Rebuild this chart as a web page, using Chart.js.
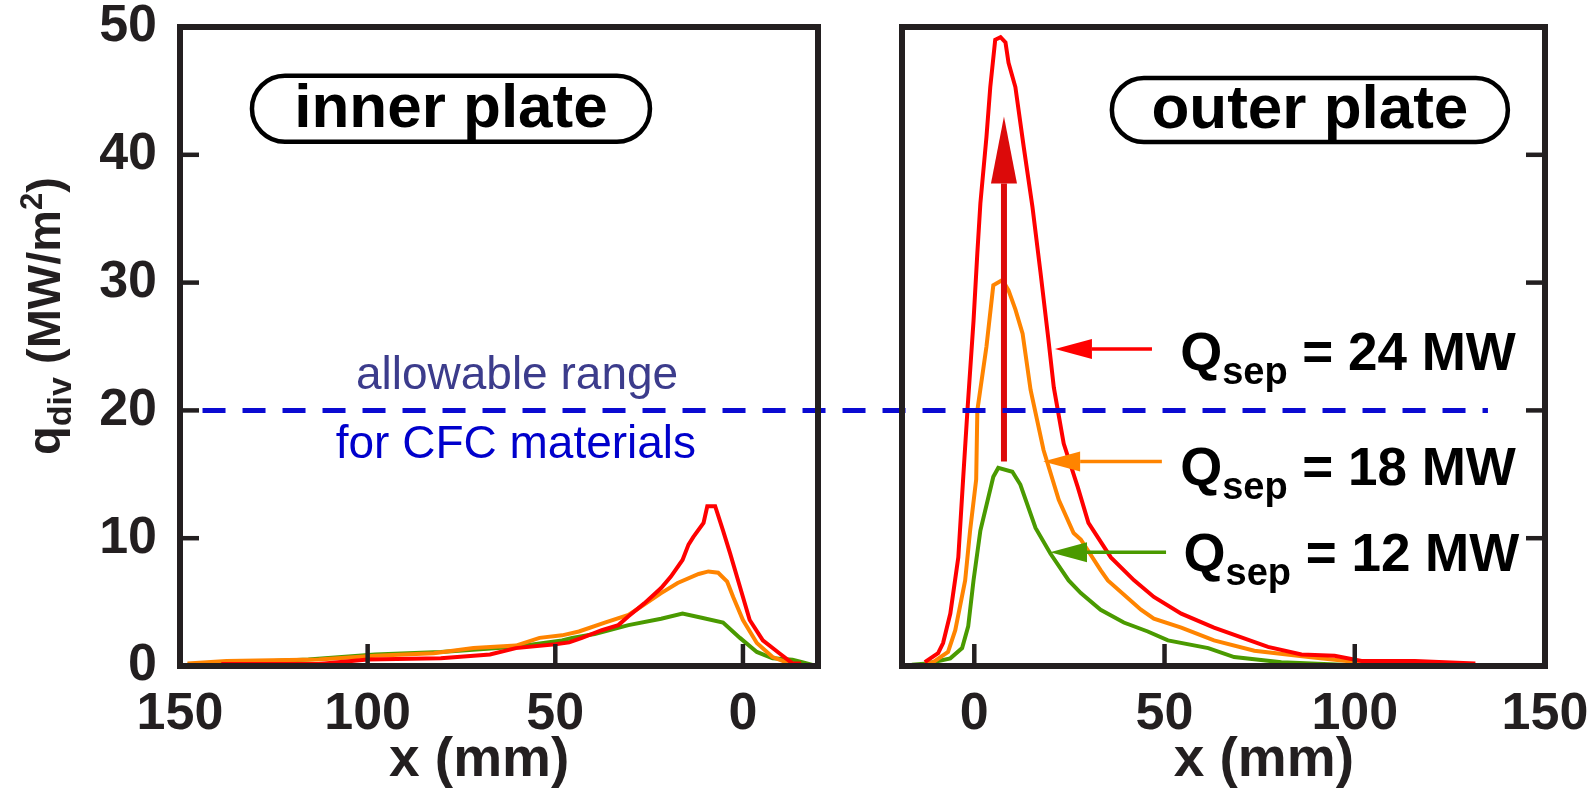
<!DOCTYPE html>
<html>
<head>
<meta charset="utf-8">
<script src="https://cdn.jsdelivr.net/npm/chart.js@4.4.1/dist/chart.umd.min.js"></script>
<style>
  html, body { margin: 0; padding: 0; background: #fff; }
  #wrap { position: relative; width: 1591px; height: 795px; overflow: hidden; }
  #innerChart { position: absolute; left: 0; top: 0; }
  #outerChart { position: absolute; left: 860px; top: 0; }
</style>
</head>
<body>
<div id="wrap">
  <canvas id="innerChart" width="860" height="795"></canvas>
  <canvas id="outerChart" width="731" height="795"></canvas>
</div>
<script>
// tick labels
var xTicksInner = [150, 100, 50, 0];
var xTicksOuter = [0, 50, 100, 150];
var yTicks = [0, 10, 20, 30, 40, 50];

// series: Q_sep = 24, 18, 12 MW
var powers = ['24', '18', '12'];
var seriesColors = ['#ff0000', '#ff8400', '#4a9a00'];
var limitValue = 20; // allowable range for CFC

// inner plate (x in mm, q in MW/m2)
var innerRedX = [139, 113, 100, 80.5, 67.4, 60.5, 50, 46.3, 42.9, 37.6, 33.2, 30.5, 26.3, 21.8, 19.2, 16.1, 14.5, 13.2, 10.5, 9.5, 7.4, 5.3, 3.4, 0.8, -1.8, -5.3, -9.7, -13.2, -15.5];
var innerRedY = [0.15, 0.15, 0.5, 0.6, 0.9, 1.4, 1.7, 1.85, 2.2, 2.8, 3.2, 3.9, 4.9, 6.1, 7.0, 8.3, 9.5, 10.1, 11.2, 12.5, 12.5, 10.6, 8.8, 6.2, 3.6, 2.0, 1.0, 0.2, 0.2];
var innerOrangeX = [148, 137.6, 113, 98, 82.4, 71.8, 60.5, 54.2, 48.2, 43.7, 36.8, 30.5, 27.9, 21.8, 17.4, 11.8, 9.2, 6.6, 4.2, 2.6, 0, -3.7, -7.9, -12.4, -16.8];
var innerOrangeY = [0.2, 0.4, 0.5, 0.8, 1.0, 1.4, 1.6, 2.2, 2.4, 2.7, 3.4, 4.0, 4.5, 5.7, 6.5, 7.2, 7.4, 7.3, 6.6, 5.4, 3.6, 1.8, 0.7, 0.2, 0];
var innerGreenX = [148, 115.8, 98, 80.5, 60.5, 48.2, 45.5, 39.5, 30.5, 21.8, 16.1, 11.3, 5.3, 0.8, -3.7, -7.9, -13.2, -15.8, -19.5];
var innerGreenY = [0.1, 0.5, 0.9, 1.1, 1.5, 2.0, 2.2, 2.5, 3.2, 3.7, 4.1, 3.8, 3.4, 2.2, 1.1, 0.6, 0.5, 0.3, 0];

// outer plate
var outerRedX = [-13, -9.5, -8.2, -6.3, -4.2, -2.9, -1.8, -0.2, 0.8, 1.6, 3.2, 4.2, 5.5, 6.9, 8.2, 9, 10.8, 13, 15.3, 17.4, 19.5, 20.9, 23.5, 27.2, 30, 35.9, 42, 47.2, 54.4, 63, 77.2, 86, 94.7, 101.8, 115.8, 131.7];
var outerRedY = [0.3, 1.0, 1.8, 4.1, 8.5, 14.8, 20, 27, 32.3, 36.2, 41.4, 45.3, 49, 49.2, 48.8, 47.2, 45.3, 40.6, 35.9, 30.8, 25.5, 21.8, 17.4, 14, 11.2, 8.5, 6.7, 5.4, 4.1, 3.0, 1.5, 0.9, 0.8, 0.4, 0.4, 0.2];
var outerOrangeX = [-13, -10.8, -6.9, -5, -2.4, -1.1, 0.5, 0.8, 3.2, 5, 7.4, 9, 10.8, 12.7, 14.8, 18.2, 22.2, 26.1, 28, 33.2, 35.1, 43.8, 47.2, 54.4, 63, 73.6, 87.9, 101, 114, 131];
var outerOrangeY = [0.2, 0.3, 1.1, 2.8, 6.7, 10.6, 14.6, 20, 25, 29.8, 30.2, 29.4, 27.9, 26, 21.6, 16.9, 13, 10.4, 9.9, 7.5, 6.7, 4.4, 3.7, 3.0, 2.0, 1.2, 0.7, 0.3, 0.2, 0.1];
var outerGreenX = [-16.4, -12.4, -6.3, -3.2, -1.6, -0.2, 1.6, 5, 6.3, 10, 12.1, 16.1, 20, 24.8, 28, 33.2, 39.3, 45.6, 50.9, 61.5, 68.3, 80.7, 96.6, 105];
var outerGreenY = [0.1, 0.2, 0.6, 1.4, 3.1, 6.7, 10.6, 14.8, 15.5, 15.2, 14.2, 10.8, 8.8, 6.7, 5.7, 4.4, 3.4, 2.7, 2.0, 1.4, 0.7, 0.3, 0.1, 0];

var FONT = '"Liberation Sans", Arial, Helvetica, sans-serif';
var INK = '#231f20';
Chart.defaults.font.family = FONT;
Chart.defaults.color = INK;

function pts(xs, ys) {
    return xs.map(function(x, i) { return {x: x, y: ys[i]}; });
}

function lineSet(label, xs, ys, color) {
    return {
        label: label,
        data: pts(xs, ys),
        borderColor: color,
        borderWidth: 4,
        pointRadius: 0,
        tension: 0,
        fill: false
    };
}

// draw text made of pieces [text, size, dy]
function richWidth(ctx, parts) {
    var w = 0;
    parts.forEach(function(p) {
        ctx.font = 'bold ' + p[1] + 'px ' + FONT;
        w += ctx.measureText(p[0]).width;
    });
    return w;
}
function drawRich(ctx, parts, x, y) {
    parts.forEach(function(p) {
        ctx.font = 'bold ' + p[1] + 'px ' + FONT;
        ctx.fillText(p[0], x, y + p[2]);
        x += ctx.measureText(p[0]).width;
    });
}

function pill(ctx, cx, cy, w, h, text) {
    var r = h / 2;
    ctx.save();
    ctx.beginPath();
    ctx.moveTo(cx - w / 2 + r, cy - r);
    ctx.lineTo(cx + w / 2 - r, cy - r);
    ctx.arc(cx + w / 2 - r, cy, r, -Math.PI / 2, Math.PI / 2);
    ctx.lineTo(cx - w / 2 + r, cy + r);
    ctx.arc(cx - w / 2 + r, cy, r, Math.PI / 2, Math.PI * 1.5);
    ctx.closePath();
    ctx.fillStyle = '#fff';
    ctx.fill();
    ctx.lineWidth = 4.5;
    ctx.strokeStyle = '#000';
    ctx.stroke();
    ctx.fillStyle = '#000';
    ctx.font = 'bold 62px ' + FONT;
    ctx.textAlign = 'center';
    ctx.textBaseline = 'middle';
    ctx.fillText(text, cx, cy + 1);
    ctx.restore();
}

function arrow(ctx, x0, y0, x1, y1, width, headLen, headHalf, color) {
    var ang = Math.atan2(y1 - y0, x1 - x0);
    var bx = x1 - Math.cos(ang) * headLen;
    var by = y1 - Math.sin(ang) * headLen;
    ctx.save();
    ctx.strokeStyle = color;
    ctx.fillStyle = color;
    ctx.lineWidth = width;
    ctx.beginPath();
    ctx.moveTo(x0, y0);
    ctx.lineTo(bx, by);
    ctx.stroke();
    ctx.beginPath();
    ctx.moveTo(x1, y1);
    ctx.lineTo(bx - Math.sin(ang) * headHalf, by + Math.cos(ang) * headHalf);
    ctx.lineTo(bx + Math.sin(ang) * headHalf, by - Math.cos(ang) * headHalf);
    ctx.closePath();
    ctx.fill();
    ctx.restore();
}

function xTitle(chart, value) {
    var ctx = chart.ctx;
    ctx.save();
    ctx.fillStyle = INK;
    ctx.font = 'bold 55px ' + FONT;
    ctx.textAlign = 'center';
    ctx.textBaseline = 'alphabetic';
    ctx.fillText('x (mm)', chart.scales.x.getPixelForValue(value), 776);
    ctx.restore();
}

var dashCarry = 0;

// dashed limit line at q = 20, continues through the gap between panels
var limitPlugin = {
    id: 'limit',
    afterDatasetsDraw: function(chart, args, o) {
        var ctx = chart.ctx;
        var xs = chart.scales.x, ys = chart.scales.y;
        var py = ys.getPixelForValue(limitValue);
        var x0 = o.from != null ? xs.getPixelForValue(o.from) : 0;
        var x1 = o.to != null ? xs.getPixelForValue(o.to) : chart.width;
        ctx.save();
        ctx.strokeStyle = '#0a0ad2';
        ctx.lineWidth = 5;
        ctx.setLineDash([23, 17]);
        ctx.lineDashOffset = o.from != null ? 0 : dashCarry;
        ctx.beginPath();
        ctx.moveTo(x0, py);
        ctx.lineTo(x1, py);
        ctx.stroke();
        ctx.restore();
        if (o.from != null) dashCarry = (x1 - x0) % 40;
    }
};

// box frame and inward tick marks
var framePlugin = {
    id: 'frame',
    afterDatasetsDraw: function(chart, args, o) {
        var ctx = chart.ctx, a = chart.chartArea;
        var xs = chart.scales.x, ys = chart.scales.y;
        ctx.save();
        ctx.strokeStyle = INK;
        ctx.lineWidth = 4.5;
        xs.ticks.forEach(function(t) {
            var px = xs.getPixelForValue(t.value);
            if (px < a.left + 5 || px > a.right - 5) return;
            ctx.beginPath();
            ctx.moveTo(px, a.bottom);
            ctx.lineTo(px, a.bottom - 22);
            ctx.stroke();
        });
        var sx = o.ySide === 'left' ? a.left : a.right;
        var dir = o.ySide === 'left' ? 1 : -1;
        yTicks.forEach(function(v) {
            var py = ys.getPixelForValue(v);
            if (py < a.top + 5 || py > a.bottom - 5) return;
            ctx.beginPath();
            ctx.moveTo(sx, py);
            ctx.lineTo(sx + dir * 19, py);
            ctx.stroke();
        });
        ctx.lineWidth = 6;
        ctx.strokeRect(a.left, a.top, a.right - a.left, a.bottom - a.top);
        ctx.restore();
    }
};

var innerNotes = {
    id: 'innerNotes',
    afterDraw: function(chart) {
        var ctx = chart.ctx;
        var xs = chart.scales.x, ys = chart.scales.y;
        pill(ctx, xs.getPixelForValue(77.8), ys.getPixelForValue(43.6), 398, 66, 'inner plate');
        xTitle(chart, 70.3);
        ctx.save();
        ctx.textAlign = 'center';
        ctx.textBaseline = 'alphabetic';
        ctx.font = '46px ' + FONT;
        ctx.fillStyle = '#3c3c8c';
        ctx.fillText('allowable range', xs.getPixelForValue(60.2), ys.getPixelForValue(21.7));
        ctx.fillStyle = '#0000cc';
        ctx.fillText('for CFC materials', xs.getPixelForValue(60.5), ys.getPixelForValue(16.3));
        // y axis title
        var parts = [['q', 47, 0], ['div', 34, 11], [' (MW/m', 47, 0], ['2', 31, -18], [')', 47, 0]];
        ctx.translate(60, 316);
        ctx.rotate(-Math.PI / 2);
        ctx.fillStyle = INK;
        ctx.textAlign = 'left';
        drawRich(ctx, parts, -richWidth(ctx, parts) / 2, 0);
        ctx.restore();
    }
};

var outerNotes = {
    id: 'outerNotes',
    afterDatasetsDraw: function(chart) {
        var ctx = chart.ctx;
        var xs = chart.scales.x, ys = chart.scales.y;
        // rising heat load arrow
        arrow(ctx, xs.getPixelForValue(7.8), ys.getPixelForValue(16.0),
              xs.getPixelForValue(7.8), ys.getPixelForValue(43.0), 6, 67, 13, '#dc0a0a');
    },
    afterDraw: function(chart) {
        var ctx = chart.ctx;
        var xs = chart.scales.x, ys = chart.scales.y;
        pill(ctx, xs.getPixelForValue(88.2), ys.getPixelForValue(43.5), 396, 64, 'outer plate');
        xTitle(chart, 76.1);
        var tails = [46.7, 49.3, 50.4], tips = [21.2, 18.1, 19.9], levels = [24.8, 16.0, 8.9];
        var textX = [54.1, 54.1, 55.0], baselines = [23.2, 14.2, 7.4];
        ctx.save();
        ctx.textBaseline = 'alphabetic';
        ctx.textAlign = 'left';
        powers.forEach(function(p, i) {
            arrow(ctx, xs.getPixelForValue(tails[i]), ys.getPixelForValue(levels[i]),
                  xs.getPixelForValue(tips[i]), ys.getPixelForValue(levels[i]), 3.5, 37, 10, seriesColors[i]);
            ctx.fillStyle = '#000';
            drawRich(ctx, [['Q', 54, 0], ['sep', 38, 14], [' = ' + p + ' MW', 53, 0]],
                     xs.getPixelForValue(textX[i]), ys.getPixelForValue(baselines[i]));
        });
        ctx.restore();
    }
};

function fixedSize(w, h) {
    return function(scale) {
        if (w != null) scale.width = w;
        if (h != null) scale.height = h;
        scale.paddingTop = 0; scale.paddingBottom = 0;
        scale.paddingLeft = 0; scale.paddingRight = 0;
    };
}

function xScale(minV, maxV, reverse, tickList) {
    return {
        type: 'linear',
        min: minV,
        max: maxV,
        reverse: reverse,
        afterBuildTicks: function(s) { s.ticks = tickList.map(function(v) { return {value: v}; }); },
        afterFit: fixedSize(null, 129),
        grid: { display: false, drawTicks: false },
        border: { display: false },
        ticks: { font: { size: 52, weight: 'bold' }, color: INK, padding: 17, maxRotation: 0, autoSkip: false },
        title: { display: false }
    };
}

var innerChart = new Chart(document.getElementById('innerChart'), {
    type: 'line',
    data: { datasets: [
        lineSet('Q_sep = 24 MW', innerRedX, innerRedY, seriesColors[0]),
        lineSet('Q_sep = 18 MW', innerOrangeX, innerOrangeY, seriesColors[1]),
        lineSet('Q_sep = 12 MW', innerGreenX, innerGreenY, seriesColors[2])
    ]},
    options: {
        responsive: false,
        animation: false,
        layout: { padding: { top: 27, right: 42, left: 0, bottom: 0 } },
        plugins: {
            legend: { display: false },
            tooltip: { enabled: false },
            limit: { from: 144, to: null },
            frame: { ySide: 'left' }
        },
        scales: {
            x: xScale(-20, 150, true, xTicksInner),
            y: {
                min: 0,
                max: 50,
                afterBuildTicks: function(s) { s.ticks = yTicks.map(function(v) { return {value: v}; }); },
                afterFit: fixedSize(180, null),
                grid: { display: false, drawTicks: false },
                border: { display: false },
                ticks: { font: { size: 52, weight: 'bold' }, color: INK, padding: 23 }
            }
        }
    },
    plugins: [limitPlugin, framePlugin, innerNotes]
});

var outerChart = new Chart(document.getElementById('outerChart'), {
    type: 'line',
    data: { datasets: [
        lineSet('Q_sep = 24 MW', outerRedX, outerRedY, seriesColors[0]),
        lineSet('Q_sep = 18 MW', outerOrangeX, outerOrangeY, seriesColors[1]),
        lineSet('Q_sep = 12 MW', outerGreenX, outerGreenY, seriesColors[2])
    ]},
    options: {
        responsive: false,
        animation: false,
        layout: { padding: { top: 27, right: 46, left: 42, bottom: 0 } },
        plugins: {
            legend: { display: false },
            tooltip: { enabled: false },
            limit: { from: null, to: 135 },
            frame: { ySide: 'right' }
        },
        scales: {
            x: xScale(-19, 150, false, xTicksOuter),
            y: { display: false, min: 0, max: 50 }
        }
    },
    plugins: [outerNotes, limitPlugin, framePlugin]
});
</script>
</body>
</html>
